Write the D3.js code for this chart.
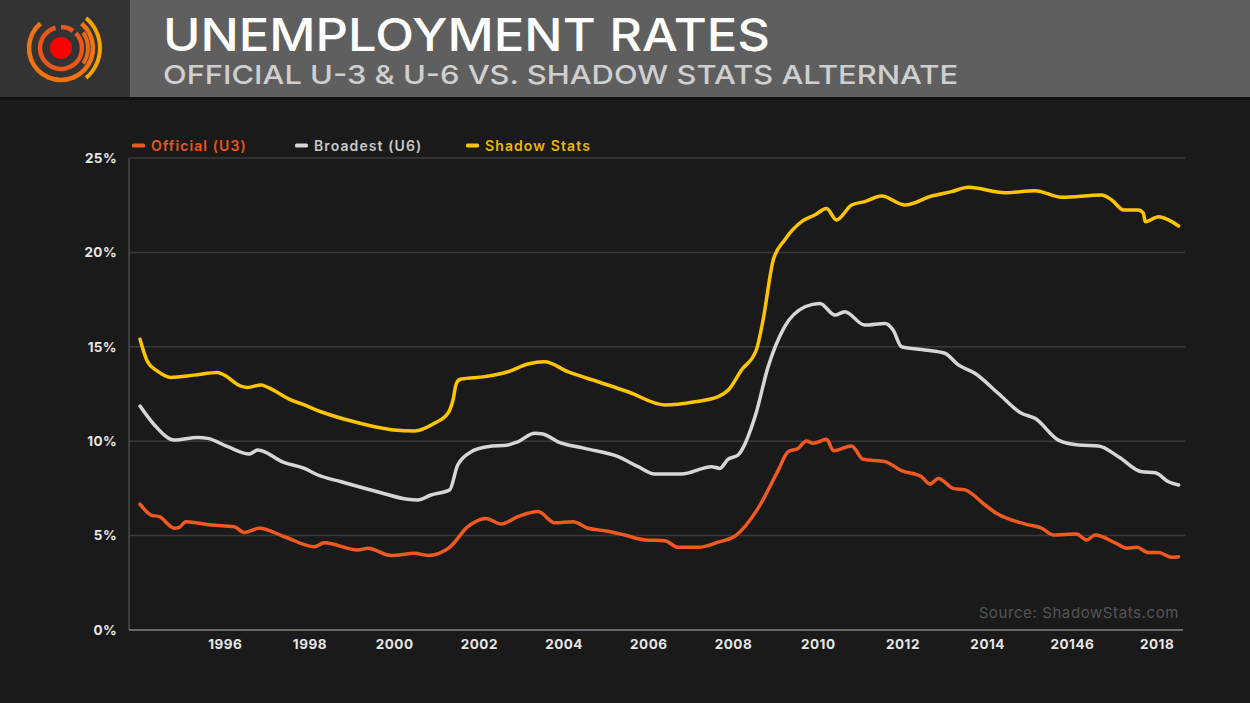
<!DOCTYPE html>
<html><head><meta charset="utf-8">
<script src="https://cdn.jsdelivr.net/npm/d3@7"></script>
<style>
html,body{margin:0;padding:0;background:#1a1a1a;}
svg{display:block;}
</style></head>
<body>
<svg id="chart" width="1250" height="703"></svg>
<script>
// ---- DATA (decimal years, percent) ----
const u3Years = [1994.0,1994.26,1994.46,1994.81,1994.93,1995.08,1995.68,1996.23,1996.46,1996.82,1997.41,1998.12,1998.35,1999.14,1999.38,1999.93,2000.48,2000.8,2001.31,2001.74,2002.17,2002.53,2002.92,2003.4,2003.79,2004.22,2004.58,2004.97,2005.44,2005.92,2006.39,2006.7,2007.18,2007.65,2008.08,2008.59,2009.07,2009.3,2009.54,2009.73,2009.89,2010.21,2010.37,2010.8,2011.07,2011.59,2011.98,2012.45,2012.65,2012.85,2013.2,2013.48,2013.95,2014.22,2014.9,2015.29,2015.57,2016.11,2016.35,2016.55,2017.02,2017.3,2017.53,2017.81,2018.05,2018.36,2018.52];
const u3Values = [6.67,6.09,6.0,5.39,5.44,5.74,5.56,5.47,5.17,5.39,4.94,4.41,4.62,4.24,4.33,3.94,4.06,3.95,4.38,5.47,5.91,5.61,6.0,6.27,5.68,5.74,5.39,5.26,5.03,4.77,4.73,4.38,4.38,4.65,5.03,6.44,8.47,9.44,9.62,10.01,9.89,10.1,9.5,9.75,9.04,8.92,8.44,8.12,7.73,8.03,7.5,7.42,6.62,6.18,5.61,5.39,5.03,5.08,4.77,5.03,4.62,4.33,4.38,4.1,4.1,3.85,3.88];

const u6Years = [1994.0,1994.34,1994.81,1995.36,1995.6,1996.07,1996.58,1996.78,1997.41,1997.88,1998.2,1998.75,1999.69,2000.32,2000.56,2000.87,2001.31,2001.5,2001.82,2002.21,2002.69,2002.92,2003.32,2003.51,2003.87,2004.5,2005.29,2005.76,2006.15,2006.78,2007.49,2007.69,2007.88,2008.12,2008.52,2008.83,2009.22,2009.7,2010.05,2010.41,2010.64,2011.11,2011.59,2011.78,2011.98,2012.53,2013.0,2013.32,2013.71,2014.26,2014.81,2015.13,2015.68,2016.16,2016.63,2017.1,2017.65,2017.97,2018.28,2018.52];
const u6Values = [11.86,10.86,10.06,10.2,10.15,9.71,9.32,9.53,8.86,8.56,8.21,7.85,7.27,6.92,6.89,7.15,7.42,8.74,9.44,9.71,9.8,9.97,10.42,10.38,9.97,9.62,9.18,8.65,8.26,8.26,8.65,8.56,9.04,9.27,11.3,13.95,16.07,17.12,17.3,16.68,16.86,16.15,16.24,15.89,15.0,14.83,14.66,14.04,13.6,12.54,11.48,11.21,10.06,9.8,9.75,9.18,8.38,8.33,7.85,7.68];

const ssYears = [1994.0,1994.18,1994.42,1994.73,1995.28,1995.83,1995.99,1996.38,1996.54,1996.86,1997.02,1997.57,1997.88,1998.27,1998.9,1999.54,2000.0,2000.48,2000.95,2001.27,2001.39,2001.47,2001.58,2002.14,2002.69,2003.16,2003.55,2004.1,2004.81,2005.52,2006.39,2007.1,2007.65,2007.89,2008.2,2008.55,2008.71,2008.95,2009.22,2009.62,2009.93,2010.21,2010.44,2010.8,2011.11,2011.51,2012.06,2012.69,2013.16,2013.56,2014.42,2015.13,2015.76,2016.7,2016.94,2017.22,2017.57,2017.69,2017.73,2018.05,2018.28,2018.52];
const ssValues = [15.4,14.2,13.7,13.38,13.5,13.64,13.5,12.92,12.85,12.98,12.85,12.18,11.92,11.56,11.12,10.77,10.59,10.54,10.95,11.48,12.18,13.07,13.29,13.42,13.68,14.09,14.21,13.68,13.15,12.62,11.92,12.09,12.36,12.71,13.77,14.83,16.42,19.6,20.66,21.63,21.98,22.33,21.72,22.51,22.69,22.99,22.51,22.99,23.22,23.45,23.16,23.27,22.92,23.04,22.78,22.25,22.25,22.07,21.63,21.89,21.72,21.4];

const seriesNames = ["Official (U3)", "Broadest (U6)", "Shadow Stats"];
const seriesColors = ["#f05a22", "#d6d6d6", "#ffc400"];
const legendTextColors = ["#e8561f", "#c9c9c9", "#e8b900"];

const yTicks = [0, 5, 10, 15, 20, 25];
const xTickYears = [1996, 1998, 2000, 2002, 2004, 2006, 2008, 2010, 2012, 2014, 2016, 2018];
const xTickLabels = ["1996","1998","2000","2002","2004","2006","2008","2010","2012","2014","20146","2018"];

const titleText = "UNEMPLOYMENT RATES";
const subtitleText = "OFFICIAL U-3 & U-6 VS. SHADOW STATS ALTERNATE";
const sourceText = "Source: ShadowStats.com";

// ---- DRAW ----
const svg = d3.select("#chart");
const W = 1250, H = 703;
const font = "Inter, 'Open Sans', 'DejaVu Sans', sans-serif";

svg.append("rect").attr("width", W).attr("height", H).attr("fill", "#1a1a1a");

// header
svg.append("rect").attr("x", 0).attr("y", 0).attr("width", 130).attr("height", 97).attr("fill", "#333333");
svg.append("rect").attr("x", 130).attr("y", 0).attr("width", W - 130).attr("height", 97).attr("fill", "#5f5f5f");
svg.append("rect").attr("x", 0).attr("y", 97).attr("width", W).attr("height", 3).attr("fill", "#111111");

// logo
const logo = svg.append("g").attr("transform", "translate(61,48)");
const arc = d3.arc();
function ring(r, w, a0, a1, color) {
  logo.append("path")
    .attr("d", arc({innerRadius: r - w / 2, outerRadius: r + w / 2, startAngle: a0 * Math.PI / 180, endAngle: a1 * Math.PI / 180}))
    .attr("fill", color);
}
ring(32, 4.5, 40, 320, "#f07414");
ring(21, 4.5, 45, 345, "#e8581c");
ring(21, 4.5, 0, 35, "#e8581c");
ring(27, 4, 55, 125, "#e86a16");
ring(39, 4, 40, 140, "#f5a300");
logo.append("circle").attr("r", 11).attr("fill", "#ff0000");

svg.append("text").attr("x", 163).attr("y", 51)
  .attr("font-family", font).attr("font-weight", 500).attr("font-size", 45)
  .attr("fill", "#ffffff").attr("textLength", 607).attr("lengthAdjust", "spacingAndGlyphs")
  .text(titleText);
svg.append("text").attr("x", 163).attr("y", 84)
  .attr("font-family", font).attr("font-weight", 500).attr("font-size", 26)
  .attr("fill", "#cfcfcf").attr("textLength", 795).attr("lengthAdjust", "spacingAndGlyphs")
  .text(subtitleText);

// scales
const plotLeft = 129, plotRight = 1185, plotTop = 158, plotBottom = 630;
const x = d3.scaleLinear().domain([1994, 2018.6]).range([140, 1182]);
const y = d3.scaleLinear().domain([0, 25]).range([plotBottom, plotTop]);

// gridlines
svg.append("g").selectAll("line").data(yTicks.filter(d => d > 0)).join("line")
  .attr("x1", plotLeft).attr("x2", plotRight)
  .attr("y1", d => y(d)).attr("y2", d => y(d))
  .attr("stroke", "#3a3a3a").attr("stroke-width", 1.5);

// axes lines
svg.append("line").attr("x1", plotLeft).attr("x2", plotLeft).attr("y1", plotTop).attr("y2", plotBottom)
  .attr("stroke", "#4a4a4a").attr("stroke-width", 1.5);
svg.append("line").attr("x1", plotLeft).attr("x2", 1183).attr("y1", plotBottom).attr("y2", plotBottom)
  .attr("stroke", "#6a6a6a").attr("stroke-width", 2);

// y axis labels
const yAxis = d3.axisLeft(y).tickValues(yTicks).tickFormat(d => d + "%").tickSize(0).tickPadding(0);
const yg = svg.append("g").attr("transform", `translate(117,0)`).call(yAxis);
yg.select(".domain").remove();
yg.selectAll("text").attr("font-family", font).attr("font-weight", 700).attr("font-size", 13.5)
  .attr("letter-spacing", "0.4px").attr("fill", "#e6e6e6");

// x axis labels
const xAxis = d3.axisBottom(x).tickValues(xTickYears).tickFormat((d, i) => xTickLabels[i]).tickSize(0).tickPadding(0);
const xg = svg.append("g").attr("transform", `translate(0,639)`).call(xAxis);
xg.select(".domain").remove();
xg.selectAll("text").attr("font-family", font).attr("font-weight", 700).attr("font-size", 13.5)
  .attr("letter-spacing", "0.5px").attr("fill", "#e6e6e6");

// source
svg.append("text").attr("x", 1179).attr("y", 618).attr("text-anchor", "end")
  .attr("font-family", font).attr("font-weight", 400).attr("font-size", 15)
  .attr("letter-spacing", "0.6px").attr("fill", "#555555").text(sourceText);

// lines
const line = d3.line().x(d => x(d[0])).y(d => y(d[1])).curve(d3.curveMonotoneX);
const series = [
  d3.zip(u3Years, u3Values),
  d3.zip(u6Years, u6Values),
  d3.zip(ssYears, ssValues)
];
const drawOrder = [2, 1, 0];
drawOrder.forEach(i => {
  svg.append("path").datum(series[i]).attr("d", line)
    .attr("fill", "none").attr("stroke", seriesColors[i])
    .attr("stroke-width", 3.5).attr("stroke-linejoin", "round").attr("stroke-linecap", "round");
});

// legend
const legendX = [132, 295, 466];
const leg = svg.append("g");
seriesNames.forEach((n, i) => {
  leg.append("rect").attr("x", legendX[i]).attr("y", 143.5).attr("width", 13).attr("height", 4).attr("rx", 1.5)
    .attr("fill", seriesColors[i]);
  leg.append("text").attr("x", legendX[i] + 19).attr("y", 150.5)
    .attr("font-family", font).attr("font-weight", 600).attr("font-size", 14)
    .attr("letter-spacing", "1.1px")
    .attr("fill", legendTextColors[i]).text(n);
});
</script>
</body></html>
